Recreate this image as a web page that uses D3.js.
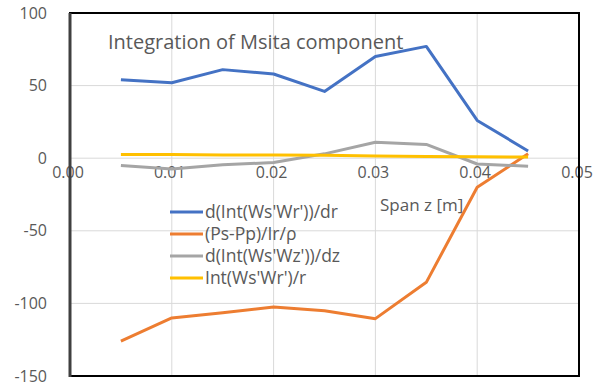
<!DOCTYPE html>
<html>
<head>
<meta charset="utf-8">
<script src="https://cdn.jsdelivr.net/npm/d3@7.9.0/dist/d3.min.js"></script>
<style>
  html, body { margin: 0; padding: 0; background: #fff; }
  svg { display: block; font-family: "Open Sans", sans-serif; }
</style>
</head>
<body>
<svg id="chart" width="605" height="387"></svg>
<script>
const span = [0.005, 0.01, 0.015, 0.02, 0.025, 0.03, 0.035, 0.04, 0.045];
const dIntWsWrDr = [54, 52, 61, 58, 46, 70, 77, 26, 5];
const psPpIrRho = [-126, -110, -106.5, -102.5, -105, -110.5, -85.5, -20, 3];
const dIntWsWzDz = [-5, -7.5, -4.5, -3, 3, 11, 9.5, -4, -5.5];
const intWsWrR = [2.5, 2.5, 2.2, 2.2, 2, 1.5, 1.2, 1, 0.8];
const seriesNames = ["d(Int(Ws'Wr'))/dr", "(Ps-Pp)/Ir/ρ", "d(Int(Ws'Wz'))/dz", "Int(Ws'Wr')/r"];
const seriesColors = ["#4472C4", "#ED7D31", "#A5A5A5", "#FFC000"];
const xTicks = [0, 0.01, 0.02, 0.03, 0.04, 0.05];
const yTicks = [-150, -100, -50, 0, 50, 100];

const series = [dIntWsWrDr, psPpIrRho, dIntWsWzDz, intWsWrR];

const svg = d3.select('#chart');
const x = d3.scaleLinear().domain([0, 0.05]).range([70, 579]);
const y = d3.scaleLinear().domain([-150, 100]).range([376, 13]);
const textColor = '#595959';

// gridlines
svg.append('g')
  .selectAll('line.vg')
  .data(xTicks.slice(1, -1))
  .join('line')
  .attr('x1', d => x(d)).attr('x2', d => x(d))
  .attr('y1', y(100)).attr('y2', y(-150))
  .attr('stroke', '#d9d9d9').attr('stroke-width', 1);

svg.append('g')
  .selectAll('line.hg')
  .data(yTicks.slice(1, -1))
  .join('line')
  .attr('x1', x(0)).attr('x2', x(0.05))
  .attr('y1', d => y(d)).attr('y2', d => y(d))
  .attr('stroke', '#d9d9d9').attr('stroke-width', 1);

// y axis labels (plain hyphen like the original)
const yAxis = svg.append('g')
  .attr('transform', `translate(${x(0) - 23},0)`)
  .call(d3.axisLeft(y).tickValues(yTicks).tickFormat(d => String(d)).tickSize(0).tickPadding(0));
yAxis.select('.domain').remove();
yAxis.selectAll('text')
  .attr('fill', textColor).style('font-size', '16px')
  .style('font-family', '"Open Sans", sans-serif');

// x axis labels, sitting under the zero line
const xAxis = svg.append('g')
  .attr('transform', `translate(-2.5,${y(0)})`)
  .call(d3.axisBottom(x).tickValues(xTicks).tickFormat(d3.format('.2f')).tickSize(0).tickPadding(8));
xAxis.select('.domain').remove();
xAxis.selectAll('text')
  .attr('fill', textColor).style('font-size', '16px')
  .style('font-family', '"Open Sans", sans-serif');

svg.append('text')
  .attr('x', 380).attr('y', 211)
  .attr('fill', textColor).style('font-size', '17px')
  .text('Span z [m]');

// lines
const line = d3.line()
  .x((d, i) => x(span[i]))
  .y(d => y(d));

svg.append('g')
  .selectAll('path')
  .data(series)
  .join('path')
  .attr('d', d => line(d))
  .attr('fill', 'none')
  .attr('stroke', (d, i) => seriesColors[i])
  .attr('stroke-width', 3)
  .attr('stroke-linejoin', 'round');

// frame
svg.append('rect')
  .attr('x', x(0)).attr('y', y(100))
  .attr('width', x(0.05) - x(0)).attr('height', y(-150) - y(100))
  .attr('fill', 'none').attr('stroke', '#000').attr('stroke-width', 2);
svg.append('line')
  .attr('x1', x(0)).attr('x2', x(0))
  .attr('y1', y(100)).attr('y2', y(-150) + 1)
  .attr('stroke', '#404040').attr('stroke-width', 3);

// title
svg.append('text')
  .attr('x', 108).attr('y', 49)
  .attr('fill', textColor).style('font-size', '20px')
  .text('Integration of Msita component');

// legend
const legend = svg.append('g')
  .selectAll('g')
  .data(seriesNames)
  .join('g')
  .attr('transform', (d, i) => `translate(170,${212 + i * 22})`);
legend.append('line')
  .attr('x1', 0).attr('x2', 33)
  .attr('stroke', (d, i) => seriesColors[i])
  .attr('stroke-width', 3);
legend.append('text')
  .attr('x', 35).attr('dy', '0.35em')
  .attr('fill', textColor).style('font-size', '17.5px')
  .text(d => d);
</script>
</body>
</html>
